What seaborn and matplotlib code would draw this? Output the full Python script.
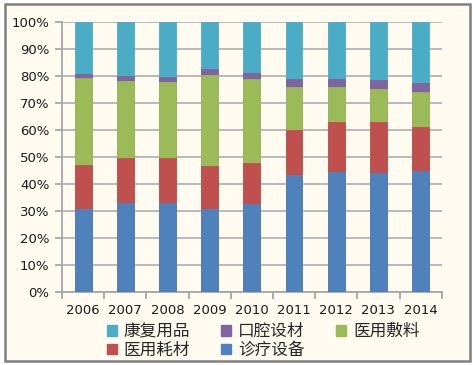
import matplotlib
matplotlib.use("Agg")
import matplotlib.pyplot as plt
import seaborn as sns
import pandas as pd
import numpy as np
from matplotlib.patches import Rectangle, Patch

years = ["2006", "2007", "2008", "2009", "2010", "2011", "2012", "2013", "2014"]
series_names = ["诊疗设备", "医用耗材", "医用敷料", "口腔设材", "康复用品"]
zhenliao = [30.7, 32.8, 32.8, 30.7, 32.6, 43.2, 44.3, 44.1, 44.8]
haocai   = [16.2, 16.8, 16.7, 16.0, 15.1, 16.9, 18.5, 18.9, 16.2]
fuliao   = [32.5, 28.7, 28.2, 33.8, 31.3, 15.7, 13.0, 12.3, 13.0]
kouqiang = [1.3, 1.6, 1.8, 2.0, 2.1, 3.0, 3.0, 3.1, 3.3]
kangfu   = [19.3, 20.1, 20.5, 17.5, 18.9, 21.2, 21.2, 21.6, 22.7]
colors = ["#4F81BD", "#C0504D", "#9BBB59", "#8064A2", "#4BACC6"]

sns.set_theme(style="white")
plt.rcParams['font.family'] = ['DejaVu Sans', 'Noto Sans CJK SC']

bg = "#FFFBF0"
fig = plt.figure(figsize=(4.73, 3.65), dpi=100)
fig.patch.set_facecolor("white")
fig.patches.append(Rectangle((5/473, 1-361/365), 465/473, 357/365, transform=fig.transFigure,
                             facecolor=bg, edgecolor="#7F7F7F", linewidth=1.8, zorder=-10))
ax = fig.add_axes([62/473, 1-292/365, (441.7-62)/473, 270/365])
ax.set_zorder(5)
ax.patch.set_alpha(0)

vals = [zhenliao, haocai, fuliao, kouqiang, kangfu]
df = pd.DataFrame({"year": years})
cum = np.zeros(len(years))
cums = []
for v in vals:
    cum = cum + np.array(v)
    cums.append(cum.copy())
total = cums[-1]
for i in range(len(vals) - 1, -1, -1):
    df["c"] = cums[i] / total * 100
    sns.barplot(data=df, x="year", y="c", color=colors[i], width=0.4, ax=ax,
                saturation=1, edgecolor=colors[i], linewidth=0.6, zorder=3)

ax.set_ylim(0, 100)
ax.set_xlim(-0.5, len(years) - 0.5)
ax.set_yticks(np.arange(0, 101, 10))
ax.set_yticklabels([f"{t}%" for t in range(0, 101, 10)], fontsize=9.5, color="#1A1A1A")
ax.set_xticks(np.arange(len(years)))
ax.set_xticklabels(years, fontsize=9.5, color="#1A1A1A")
ax.set_xlabel("")
ax.set_ylabel("")
ax.yaxis.grid(True, color="#B3B3B3", linewidth=1.3, zorder=1)
ax.set_axisbelow(True)
for s in ["top", "right"]:
    ax.spines[s].set_visible(False)
for s in ["left", "bottom"]:
    ax.spines[s].set_color("#A6A6A6")
    ax.spines[s].set_linewidth(1.3)
ax.tick_params(axis="y", which="both", left=True, length=5, width=1.3, color="#A6A6A6", pad=4)
ax.tick_params(axis="x", bottom=False, pad=3)
ax.set_xticks(np.arange(-0.5, len(years), 1), minor=True)
ax.tick_params(axis="x", which="minor", bottom=True, length=5, width=1.3, color="#A6A6A6")

labels_order = ["康复用品", "医用耗材", "口腔设材", "诊疗设备", "医用敷料"]
cmap = dict(zip(series_names, colors))
handles = [Patch(facecolor=cmap[n], edgecolor=cmap[n]) for n in labels_order]
leg = fig.legend(handles, labels_order, loc="center", bbox_to_anchor=(263/473, 1-341/365), ncol=3,
                 frameon=False, handlelength=0.6, handleheight=0.6,
                 handletextpad=0.4, columnspacing=1.9, labelspacing=0.1,
                 borderpad=0.2, prop={"family": ["Noto Sans CJK SC"], "size": 12})

fig.savefig("out.png", dpi=100, facecolor="white")
